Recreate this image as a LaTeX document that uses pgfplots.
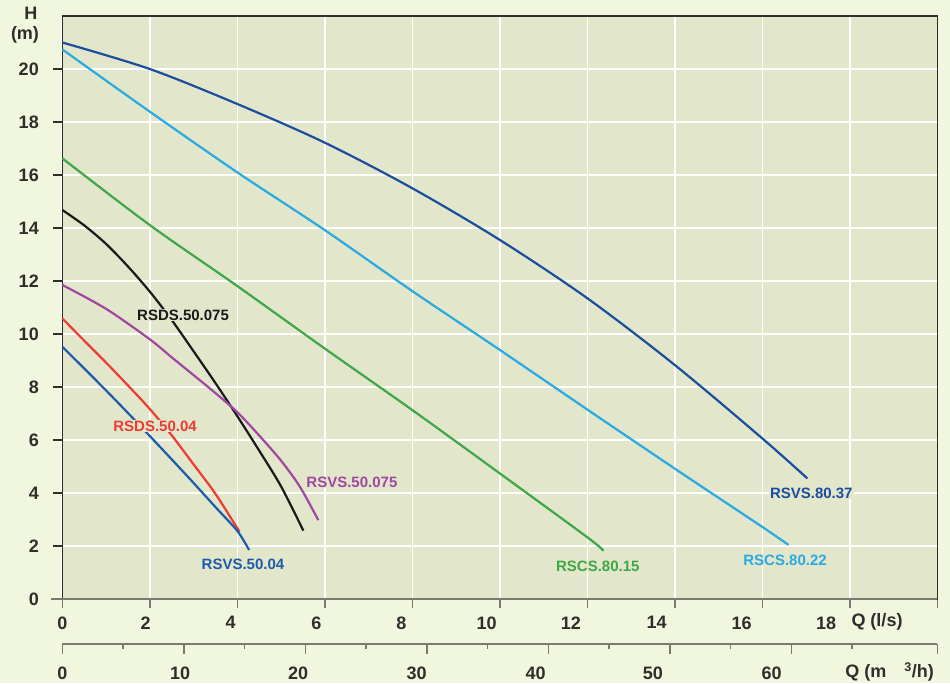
\documentclass[border=0pt]{standalone}
\usepackage{fontspec}
\setmainfont{Liberation Sans}
\usepackage{pgfplots}
\pgfplotsset{compat=1.18}

\definecolor{outerbg}{HTML}{F1F6DE}
\definecolor{plotbg}{HTML}{E2E6CB}
\definecolor{framec}{HTML}{2E2E2A}
\definecolor{axgray}{HTML}{7A7A70}
\definecolor{cdarkblue}{HTML}{1B4F9E}
\definecolor{clightblue}{HTML}{2AAAE1}
\definecolor{cgreen}{HTML}{3EA746}
\definecolor{cblack}{HTML}{1A1A1A}
\definecolor{cpurple}{HTML}{A0489F}
\definecolor{cred}{HTML}{EE3B33}
\definecolor{cblue}{HTML}{1D5CAA}

\newcommand{\tickfont}{\fontsize{18}{21}\selectfont\bfseries}
\newcommand{\labfont}{\fontsize{15}{18}\selectfont\bfseries}

\begin{document}
\begin{tikzpicture}
\fill[outerbg] (-62.3pt,-84pt) rectangle (887.7pt,599pt);
\useasboundingbox (-62.3pt,-84pt) rectangle (887.7pt,599pt);

% main axis, Q in l/s
\begin{axis}[
  scale only axis, width=875pt, height=583pt,
  xmin=0, xmax=20, ymin=0, ymax=22,
  xtick={0,2,...,20}, xticklabels={},
  ytick={0,2,...,20},
  % the printed numbers sit a little left of their ticks
  extra x ticks={0,1.906,3.849,5.806,7.749,9.701,11.625,13.586,15.529,17.457},
  extra x tick labels={0,2,4,6,8,10,12,14,16,18},
  extra x tick style={grid=none, major tick length=0pt},
  grid=major, grid style={white, line width=1.6pt},
  axis background/.style={fill=plotbg},
  axis line style={draw=framec, line width=1.3pt},
  tick pos=left, tick align=outside,
  major tick length=9pt,
  xtick style={draw=axgray, line width=1.5pt},
  ytick style={draw=framec, line width=1.2pt},
  ticklabel style={font=\tickfont, text=framec},
  xticklabel style={yshift=-14pt},
  yticklabel style={xshift=-11pt},
  /pgf/number format/assume math mode=true,
  clip=false,
  every axis plot/.append style={line width=2.2pt, smooth, no markers},
]
\addplot[cdarkblue] coordinates {(0,21.0) (2,20.0) (4,18.68) (6,17.22) (8,15.5) (10,13.55) (12,11.35) (14,8.83) (16,6.06) (17.03,4.55)};
\addplot[clightblue] coordinates {(0,20.74) (2,18.39) (4,16.1) (6,13.92) (8,11.62) (10,9.4) (12,7.15) (14,4.92) (16,2.72) (16.6,2.04)};
\addplot[cgreen] coordinates {(0,16.63) (2,14.11) (4,11.81) (6,9.45) (8,7.13) (10,4.74) (12,2.33) (12.37,1.82)};
\addplot[cblack] coordinates {(0,14.68) (0.5,14.1) (1,13.4) (1.5,12.55) (2,11.6) (2.5,10.53) (3,9.35) (3.5,8.15) (4,6.9) (4.5,5.6) (5,4.25) (5.51,2.58)};
\addplot[cpurple] coordinates {(0,11.85) (1,10.95) (2,9.8) (2.5,9.12) (3,8.45) (3.5,7.77) (4,7.05) (4.5,6.17) (5,5.22) (5.43,4.24) (5.85,2.98)};
\addplot[cred] coordinates {(0,10.59) (0.5,9.75) (1,8.92) (1.5,8.06) (2,7.17) (2.5,6.18) (3,5.08) (3.5,3.97) (4.05,2.54)};
\addplot[cblue] coordinates {(0,9.52) (0.5,8.7) (1,7.87) (1.5,7.02) (2,6.15) (2.5,5.27) (3,4.38) (3.5,3.47) (4,2.57) (4.27,1.85)};

\begin{scope}[every node/.style={font=\labfont, fill=plotbg, inner sep=1pt}]
\node[text=cblack] at (axis cs:2.76,10.72) {RSDS.50.075};
\node[text=cred] at (axis cs:2.12,6.53) {RSDS.50.04};
\node[text=cpurple] at (axis cs:6.62,4.42) {RSVS.50.075};
\node[text=cblue] at (axis cs:4.13,1.32) {RSVS.50.04};
\node[text=cgreen] at (axis cs:12.24,1.25) {RSCS.80.15};
\node[text=clightblue] at (axis cs:16.52,1.47) {RSCS.80.22};
\node[text=cdarkblue] at (axis cs:17.12,4.0) {RSVS.80.37};
\end{scope}
\draw[axgray, line width=2pt] (rel axis cs:0,0) ++(-11pt,0) -- (rel axis cs:1,0);
\end{axis}

% second axis, Q in m3/h
\begin{axis}[
  at={(0pt,-45pt)}, anchor=south west,
  scale only axis, width=875pt, height=10pt,
  xmin=0, xmax=72, ymin=0, ymax=1,
  axis x line=bottom, hide y axis,
  x axis line style={-, draw=axgray, line width=2pt},
  xtick={0,10,20,30,40,50,60,72}, xticklabels={},
  minor xtick={5,15,...,65},
  extra x ticks={0,9.69,19.4,29.16,38.95,48.6,58.37},
  extra x tick labels={0,10,20,30,40,50,60},
  extra x tick style={major tick length=0pt},
  tick align=outside,
  major tick length=10pt, minor tick length=5pt,
  xtick style={draw=axgray, line width=1.5pt},
  ticklabel style={font=\tickfont, text=framec},
  xticklabel style={yshift=-19pt},
  /pgf/number format/assume math mode=true,
]
\addplot[draw=none] coordinates {(0,0) (72,0)};
\end{axis}

\node[font=\tickfont, text=framec] at (-31.3pt,586pt) {H};
\node[font=\tickfont, text=framec] at (-37.3pt,564pt) {(m)};
\node[font=\tickfont, text=framec] at (814.7pt,-23pt) {Q (l/s)};
\node[font=\tickfont, text=framec, anchor=east] at (875pt,-73pt) {Q (m\hspace{18pt}\textsuperscript{3}/h)};
\end{tikzpicture}
\end{document}
